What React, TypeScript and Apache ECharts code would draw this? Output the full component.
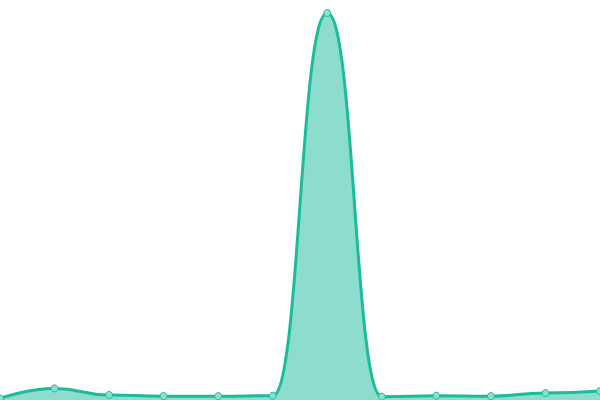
import React, { useEffect, useRef } from 'react';
import * as echarts from 'echarts';

const categories = ['1', '2', '3', '4', '5', '6', '7', '8', '9', '10', '11', '12'];
const values = [0.4, 3.0, 1.3, 1.0, 1.0, 1.1, 100, 0.85, 1.1, 1.0, 1.8, 2.3];

const App: React.FC = () => {
  const chartRef = useRef<HTMLDivElement>(null);

  useEffect(() => {
    document.body.style.margin = '0';
    if (!chartRef.current) return;
    const chart = echarts.init(chartRef.current, undefined, { renderer: 'svg' });

    chart.setOption({
      animation: false,
      grid: { left: 0, right: 0, top: 13, bottom: 0 },
      xAxis: {
        type: 'category',
        data: categories,
        boundaryGap: false,
        show: false
      },
      yAxis: {
        type: 'value',
        min: 0,
        max: 100,
        show: false
      },
      series: [
        {
          type: 'line',
          data: values,
          smooth: true,
          smoothMonotone: 'x',
          symbol: 'circle',
          symbolSize: 7,
          lineStyle: { color: '#1abc9c', width: 3 },
          itemStyle: { color: '#8ae0cf', borderColor: '#1abc9c', borderWidth: 1 },
          areaStyle: { color: '#1abc9c', opacity: 0.5 }
        }
      ]
    });

    return () => {
      chart.dispose();
    };
  }, []);

  return <div ref={chartRef} style={{ width: '600px', height: '400px' }} />;
};

export default App;
